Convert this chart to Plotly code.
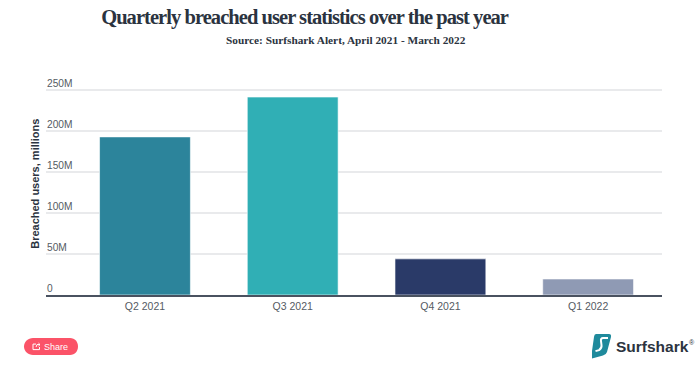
import plotly.graph_objects as go

categories = ["Q2 2021", "Q3 2021", "Q4 2021", "Q1 2022"]
values = [192.5, 241, 44, 19.5]
bar_colors = ["#2c849b", "#30afb5", "#2a3a68", "#8f9ab4"]
tick_values = [0, 50, 100, 150, 200, 250]
tick_labels = ["0", "50M", "100M", "150M", "200M", "250M"]
title_text = "Quarterly breached user statistics over the past year"
subtitle_text = "Source: Surfshark Alert, April 2021 - March 2022"
y_title = "Breached users, millions"

W, H = 700, 370
Y_TOP = 252
L, R, B = 46, 662, 295
T = B - 205 * Y_TOP / 250
def px(x): return (x - L) / (R - L)
def py(y): return (B - y) / (B - T)

fig = go.Figure(go.Bar(
    x=categories, y=values, marker_color=bar_colors,
    marker_line_color="rgba(255,255,255,0.6)", marker_line_width=1, width=0.615,
))

annotations = [
    dict(text=f"<b>{title_text}</b>", x=px(304.5), y=py(18), xref="paper", yref="paper",
         xanchor="center", yanchor="middle", showarrow=False,
         font=dict(family="Liberation Serif", size=20.5, color="#2b3340")),
    dict(text=f"<b>{subtitle_text}</b>", x=px(346), y=py(40.5), xref="paper", yref="paper",
         xanchor="center", yanchor="middle", showarrow=False,
         font=dict(family="Liberation Serif", size=11.3, color="#2b3340")),
    dict(text=f"<b>{y_title}</b>", x=px(35), y=py(184), xref="paper", yref="paper",
         xanchor="center", yanchor="middle", textangle=-90, showarrow=False,
         font=dict(family="Liberation Sans", size=11, color="#2b3340")),
    dict(text="Share", x=px(55.5), y=py(346.5), xref="paper", yref="paper",
         xanchor="center", yanchor="middle", showarrow=False,
         font=dict(family="Liberation Sans", size=9, color="#ffffff")),
    dict(text="<b>Surfshark</b>", x=px(614), y=py(346.5), xref="paper", yref="paper",
         xanchor="left", yanchor="middle", showarrow=False,
         font=dict(family="Liberation Sans", size=15.5, color="#2b3340")),
    dict(text="®", x=px(687), y=py(342), xref="paper", yref="paper",
         xanchor="left", yanchor="middle", showarrow=False,
         font=dict(family="Liberation Sans", size=7, color="#2b3340")),
]
for v, lab in zip(tick_values, tick_labels):
    annotations.append(dict(text=lab, x=0, xref="paper", y=v, yref="y", xanchor="left",
                            yanchor="bottom", yshift=-1, xshift=-1, showarrow=False,
                            font=dict(family="Liberation Sans", size=10.2, color="#555b63")))

def P(x, y): return f"{px(x):.5f},{py(y):.5f}"
shapes = [
    dict(type="path", xref="paper", yref="paper", fillcolor="#fb5368", line_width=0,
         path=f"M{P(33,338)} L{P(70,338)} C{P(75,338)} {P(78,342)} {P(78,346.5)} "
              f"C{P(78,351)} {P(75,355)} {P(70,355)} L{P(33,355)} "
              f"C{P(28,355)} {P(24,351)} {P(24,346.5)} C{P(24,342)} {P(28,338)} {P(33,338)} Z"),
    dict(type="path", xref="paper", yref="paper", line=dict(color="#ffffff", width=1),
         path=f"M{P(36,344)} L{P(33,344)} L{P(33,349.5)} L{P(39.5,349.5)} L{P(39.5,347)}"),
    dict(type="path", xref="paper", yref="paper", line=dict(color="#ffffff", width=1),
         path=f"M{P(36,347)} L{P(37,344.5)} L{P(40,344.5)} M{P(38.5,343)} L{P(40,344.5)} L{P(38.5,346)}"),
    dict(type="path", xref="paper", yref="paper", fillcolor="#1f8a9c", line_width=0,
         path=f"M{P(596,334)} L{P(609,334)} Q{P(611.5,334)} {P(611,337)} L{P(607,352)} "
              f"Q{P(606,355)} {P(603,355.5)} L{P(592,358.5)} L{P(592,351)} L{P(594,337)} "
              f"Q{P(594.3,334)} {P(596,334)} Z"),
    dict(type="path", xref="paper", yref="paper", line=dict(color="#ffffff", width=2),
         path=f"M{P(608,338)} L{P(603,338)} Q{P(600.5,338)} {P(601,341)} L{P(601.5,345)} "
              f"Q{P(602,348)} {P(599,350)} L{P(595.5,351)}"),
]

fig.update_layout(
    width=W, height=H, autosize=False,
    margin=dict(l=L, r=W - R, t=T, b=H - B, pad=0),
    paper_bgcolor="#ffffff", plot_bgcolor="#ffffff",
    showlegend=False, annotations=annotations, shapes=shapes,
    xaxis=dict(type="category", range=[-0.67, 3.5], showgrid=False, ticks="",
               showline=True, linecolor="#4a5260", linewidth=2, zeroline=False,
               tickfont=dict(family="Liberation Sans", size=10.5, color="#555b63")),
    yaxis=dict(range=[0, Y_TOP], tickvals=tick_values, showticklabels=False, ticks="",
               showgrid=True, gridcolor="#e9eaec", gridwidth=1.5, zeroline=False,
               showline=False),
)
post = """
document.body.style.margin = '0';
document.documentElement.style.overflow = 'hidden';
document.querySelectorAll('.annotation-text').forEach(function (t) {
  if (t.textContent.indexOf('Quarterly') === 0) { t.style.letterSpacing = '-0.95px'; }
});
"""
fig.write_html("out.html", config=dict(displayModeBar=False), post_script=post)
